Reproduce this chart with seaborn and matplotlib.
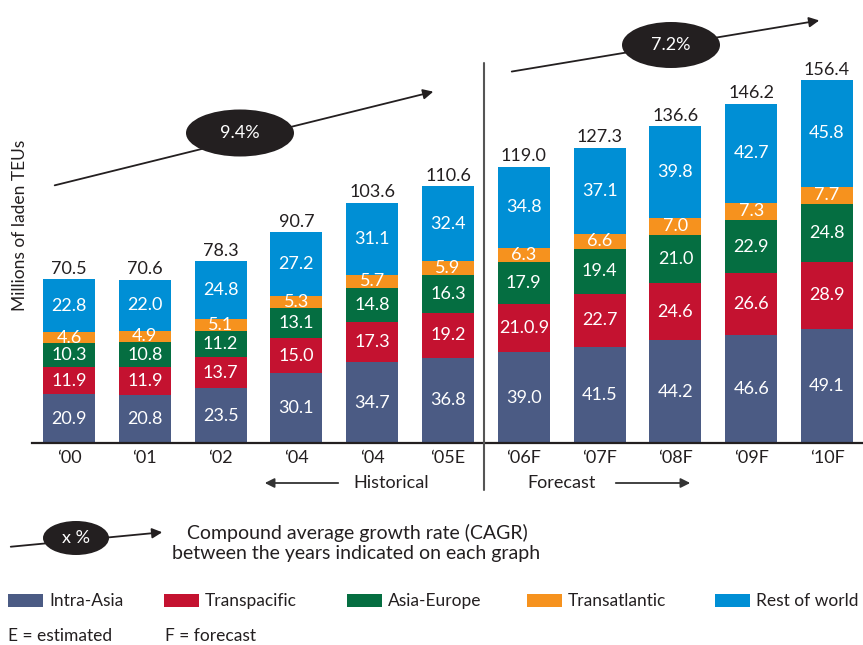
import pandas as pd
import numpy as np
import matplotlib
matplotlib.use("Agg")
import matplotlib.pyplot as plt
from matplotlib.patches import Ellipse, Rectangle
import seaborn as sns

# data (millions of laden TEUs)
years = ["\u201800", "\u201801", "\u201802", "\u201804", "\u201804", "\u201805E",
         "\u201806F", "\u201807F", "\u201808F", "\u201809F", "\u201810F"]
intra_asia = [20.9, 20.8, 23.5, 30.1, 34.7, 36.8, 39.0, 41.5, 44.2, 46.6, 49.1]
transpacific = [11.9, 11.9, 13.7, 15.0, 17.3, 19.2, 21.0, 22.7, 24.6, 26.6, 28.9]
asia_europe = [10.3, 10.8, 11.2, 13.1, 14.8, 16.3, 17.9, 19.4, 21.0, 22.9, 24.8]
transatlantic = [4.6, 4.9, 5.1, 5.3, 5.7, 5.9, 6.3, 6.6, 7.0, 7.3, 7.7]
rest_of_world = [22.8, 22.0, 24.8, 27.2, 31.1, 32.4, 34.8, 37.1, 39.8, 42.7, 45.8]
totals = [70.5, 70.6, 78.3, 90.7, 103.6, 110.6, 119.0, 127.3, 136.6, 146.2, 156.4]
# the source prints this one label oddly
label_override = {("Transpacific", 6): "21.0.9"}

series = ["Intra-Asia", "Transpacific", "Asia-Europe", "Transatlantic", "Rest of world"]
colors = {"Intra-Asia": "#4b5b84", "Transpacific": "#c41230", "Asia-Europe": "#056e41",
          "Transatlantic": "#f6921e", "Rest of world": "#008fd5"}

df = pd.DataFrame({"pos": range(len(years)),
                   "Intra-Asia": intra_asia, "Transpacific": transpacific,
                   "Asia-Europe": asia_europe, "Transatlantic": transatlantic,
                   "Rest of world": rest_of_world})
cum = df[series].cumsum(axis=1)

sns.set_style("white")
plt.rcParams["font.family"] = ["Lato", "DejaVu Sans"]
dark = "#231f20"

fig = plt.figure(figsize=(8.63, 6.45), dpi=100)
ax = fig.add_axes([32 / 863, 202 / 645, 831 / 863, 383 / 645])

# stacked bars: draw cumulative heights from the top layer down
for name in reversed(series):
    sns.barplot(x=df["pos"], y=cum[name], color=colors[name], width=0.686,
                saturation=1, errorbar=None, edgecolor="none", linewidth=0, ax=ax)

# segment labels
for name in series:
    for i in range(len(years)):
        val = df.loc[i, name]
        txt = label_override.get((name, i), f"{val:.1f}")
        ax.text(i, cum.loc[i, name] - val / 2, txt, color="white",
                ha="center", va="center", fontsize=13)

# totals above bars
for i, t in enumerate(totals):
    ax.text(i, t + 1.0, f"{t:.1f}", color=dark, ha="center", va="bottom", fontsize=13)

ax.set_xlim(-0.488, 10.475)
ax.set_ylim(0, 165)
ax.set_xticks(range(len(years)))
ax.set_xticklabels(years, fontsize=13, color=dark)
ax.set_yticks([])
ax.set_xlabel("")
ax.set_ylabel("")
ax.tick_params(axis="x", length=0, pad=5)
for s in ["top", "right", "left"]:
    ax.spines[s].set_visible(False)
ax.spines["bottom"].set_color(dark)
ax.spines["bottom"].set_linewidth(1.6)
ax.patch.set_alpha(0)

# overlay in pixel coordinates for annotations
ov = fig.add_axes([0, 0, 1, 1])
ov.set_xlim(0, 863)
ov.set_ylim(645, 0)
ov.axis("off")
ov.patch.set_alpha(0)

ov.text(20, 225, "Millions of laden TEUs", rotation=90, ha="center", va="center",
        fontsize=12.5, color=dark)

# historical / forecast divider
ov.plot([484, 484], [63, 490], color="#555555", lw=1.5)


def cagr(start, end, center, w, h, label):
    ov.annotate("", xy=end, xytext=start,
                arrowprops=dict(arrowstyle="-|>", color=dark, lw=1.3, mutation_scale=15))
    ov.add_patch(Ellipse(center, w, h, facecolor=dark, edgecolor="none", zorder=3))
    ov.text(center[0], center[1], label, color="white", ha="center", va="center",
            fontsize=13, zorder=4)


cagr((52, 186), (436, 91), (240, 133), 108, 47, "9.4%")
cagr((509, 72), (822, 20), (671, 45), 98, 46, "7.2%")

# historical / forecast arrows
ov.annotate("", xy=(262, 483), xytext=(341, 483),
            arrowprops=dict(arrowstyle="-|>", color="#333333", lw=1.3, mutation_scale=14))
ov.text(353, 483, "Historical", ha="left", va="center", fontsize=13, color=dark)
ov.text(527, 483, "Forecast", ha="left", va="center", fontsize=13, color=dark)
ov.annotate("", xy=(693, 483), xytext=(613, 483),
            arrowprops=dict(arrowstyle="-|>", color="#333333", lw=1.3, mutation_scale=14))

# CAGR key
cagr((8, 547), (165, 532), (76, 538), 66, 34, "x %")
ov.text(357, 533, "Compound average growth rate (CAGR)", ha="center", va="center",
        fontsize=14, color=dark)
ov.text(356, 553, "between the years indicated on each graph", ha="center", va="center",
        fontsize=14, color=dark)

# legend
legend_x = {"Intra-Asia": 8, "Transpacific": 164, "Asia-Europe": 347,
            "Transatlantic": 527, "Rest of world": 715}
for name in series:
    x0 = legend_x[name]
    ov.add_patch(Rectangle((x0, 594), 35, 13, facecolor=colors[name], edgecolor="none"))
    ov.text(x0 + 41, 601, name, ha="left", va="center", fontsize=12.5, color=dark)

ov.text(8, 636, "E = estimated", ha="left", va="center", fontsize=12.5, color=dark)
ov.text(165, 636, "F = forecast", ha="left", va="center", fontsize=12.5, color=dark)

fig.savefig("out.png", dpi=100)
